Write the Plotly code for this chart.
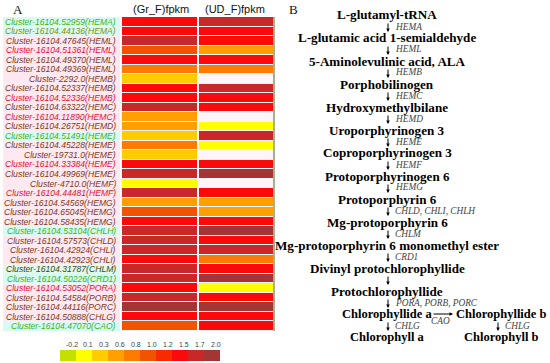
import plotly.graph_objects as go
import numpy as np

# ---------------- data ----------------
genes = [
    "Cluster-16104.52959(HEMA)", "Cluster-16104.44136(HEMA)", "Cluster-16104.47645(HEML)",
    "Cluster-16104.51361(HEML)", "Cluster-16104.49370(HEML)", "Cluster-16104.49369(HEML)",
    "Cluster-2292.0(HEMB)", "Cluster-16104.52337(HEMB)", "Cluster-16104.52336(HEMB)",
    "Cluster-16104.63322(HEMC)", "Cluster-16104.11890(HEMC)", "Cluster-16104.26751(HEMD)",
    "Cluster-16104.51491(HEME)", "Cluster-16104.45228(HEME)", "Cluster-19731.0(HEME)",
    "Cluster-16104.33384(HEME)", "Cluster-16104.49969(HEME)", "Cluster-4710.0(HEMF)",
    "Cluster-16104.44481(HEMF)", "Cluster-16104.54569(HEMG)", "Cluster-16104.65045(HEMG)",
    "Cluster-16104.58435(HEMG)", "Cluster-16104.53104(CHLH)", "Cluster-16104.57573(CHLD)",
    "Cluster-16104.42924(CHLI)", "Cluster-16104.42923(CHLI)", "Cluster-16104.31787(CHLM)",
    "Cluster-16104.50226(CRD1)", "Cluster-16104.53052(PORA)", "Cluster-16104.54584(PORB)",
    "Cluster-16104.44116(PORC)", "Cluster-16104.50888(CHLG)", "Cluster-16104.47070(CAO)",
]
label_kind = ["g", "o", "b", "r", "b", "b", "b", "b", "r", "b", "r", "b", "g", "b", "b",
              "r", "b", "b", "r", "b", "b", "b", "g", "b", "b", "b", "dg", "g", "r", "b",
              "b", "b", "g"]
samples = ["(Gr_F)fpkm", "(UD_F)fpkm"]
gr_f = [1.5, 1.5, 1.7, 1.0, 1.5, 0.8, 0.3, 1.5, 1.5, 1.7, 0.6, 0.6, 0.3, 0.8, 0.3, 1.5, 1.7,
        0.1, 1.7, 0.6, 1.0, 1.5, 1.7, 1.7, 1.7, 1.5, 1.7, 1.7, 1.5, 1.7, 2.0, 1.5, 1.0]
ud_f = [1.7, 1.5, 1.5, 0.6, 1.5, 0.8, None, 1.7, 1.5, 1.5, None, 0.1, 1.7, 0.1, None, 1.5, 2.0,
        None, 1.5, 0.6, 0.6, 1.5, 2.0, 1.5, 1.7, 0.8, 1.5, 2.0, 0.1, 1.5, 2.0, 1.5, 1.5]
scale_ticks = [-0.2, 0.1, 0.3, 0.6, 0.8, 1.0, 1.2, 1.5, 1.7, 2.0]
scale_colors = ["#c4e000", "#ffff00", "#ffcc00", "#ffa000", "#ff7a00", "#f05400",
                "#f82a00", "#fa0a0a", "#c82828", "#a33535"]

compounds = [
    "L-glutamyl-tRNA", "L-glutamic acid 1-semialdehyde", "5-Aminolevulinic acid, ALA",
    "Porphobilinogen", "Hydroxymethylbilane", "Uroporphyrinogen 3", "Coproporphyrinogen 3",
    "Protoporphyrinogen 6", "Protoporphyrin 6", "Mg-protoporphyrin 6",
    "Mg-protoporphyrin 6 monomethyl ester", "Divinyl protochlorophyllide",
    "Protochlorophyllide", "Chlorophyllide a", "Chlorophyll a",
]
enzymes = ["HEMA", "HEML", "HEMB", "HEMC", "HEMD", "HEME", "HEMF", "HEMG",
           "CHLD, CHLI, CHLH", "CHLM", "CRD1", "", "PORA, PORB, PORC", "CHLG"]
branch_compounds = ["Chlorophyllide b", "Chlorophyll b"]
branch_enzymes = ["CAO", "CHLG"]

# ---------------- figure ----------------
W, H = 550, 363
lo, hi = scale_ticks[0], scale_ticks[-1]
colorscale = [[(v - lo) / (hi - lo), c] for v, c in zip(scale_ticks, scale_colors)]

z = np.array([[np.nan if v is None else v for v in gr_f],
              [np.nan if v is None else v for v in ud_f]]).T

fig = go.Figure()
fig.add_trace(go.Heatmap(
    z=z, x=samples, y=genes, colorscale=colorscale, zmin=lo, zmax=hi,
    showscale=False, xgap=2, ygap=1, hoverongaps=False,
    xaxis="x", yaxis="y"))

# colour key
key_x = [f"{t:.1f}" for t in scale_ticks]
fig.add_trace(go.Heatmap(
    z=[scale_ticks], x=list(range(len(key_x))), y=[0],
    colorscale=colorscale, zmin=lo, zmax=hi, showscale=False,
    xaxis="x3", yaxis="y3"))


def px(x):
    return x / W


def py(y):
    return 1 - y / H


hm_left, hm_right, hm_top, hm_bot = 121, 274, 17, 331
layout = dict(
    width=W, height=H, margin=dict(l=0, r=0, t=0, b=0),
    paper_bgcolor="white", plot_bgcolor="#fff4f8", showlegend=False,
    xaxis=dict(domain=[px(hm_left), px(hm_right)], visible=False),
    yaxis=dict(domain=[py(hm_bot), py(hm_top)], autorange="reversed", visible=False),
    xaxis3=dict(domain=[px(60), px(220)], visible=False, anchor="y3",
                range=[-0.5, len(key_x) - 0.5]),
    yaxis3=dict(domain=[py(361), py(350)], visible=False, anchor="x3", range=[-0.5, 0.5]),
)
fig.update_layout(**layout)

label_colors = {"g": "#45b01a", "o": "#8c8c12", "b": "#7b3a1c", "r": "#e6102e", "dg": "#364a1e"}
bg_colors = {"g": "#d6fbf3", "o": "#d6fbf3", "b": "#ffe8f0", "r": "#ffe8f0", "dg": "#e2f8ea"}

shapes = []
annotations = []


def text(x, y, t, font, xanchor="center", yanchor="middle"):
    annotations.append(dict(xref="paper", yref="paper", x=px(x), y=py(y), text=t,
                            showarrow=False, xanchor=xanchor, yanchor=yanchor, font=font))


def arrow(x0, y0_, x1, y1):
    annotations.append(dict(xref="paper", yref="paper", x=px(x1), y=py(y1),
                            ax=x0 - x1, ay=y0_ - y1, axref="pixel", ayref="pixel",
                            text="", showarrow=True, arrowhead=2, arrowsize=0.7,
                            arrowwidth=1, arrowcolor="#000"))


n = len(genes)
rh = (hm_bot - hm_top) / n
for i, (g, k) in enumerate(zip(genes, label_kind)):
    yc = hm_top + (i + 0.5) * rh
    shapes.append(dict(type="rect", xref="paper", yref="paper", x0=px(3), x1=px(120),
                       y0=py(yc - rh / 2), y1=py(yc + rh / 2), fillcolor=bg_colors[k],
                       line=dict(width=0), layer="below"))
    text(118, yc, g, dict(family="Liberation Sans", size=8.6, style="italic",
                          color=label_colors[k]), xanchor="right")
# heatmap right border
shapes.append(dict(type="line", xref="paper", yref="paper", x0=px(hm_right), x1=px(hm_right),
                   y0=py(hm_top), y1=py(hm_bot), line=dict(color="#4a6a20", width=1)))

# colour key labels
for i, kx in enumerate(key_x):
    annotations.append(dict(xref="x3", yref="paper", x=i, y=py(344), text=kx,
                            showarrow=False, xshift=4, yanchor="middle",
                            font=dict(family="Liberation Sans", size=7, color="#444")))

# column headers
for s, xc in zip(samples, [161, 235]):
    text(xc, 9, s, dict(family="Liberation Sans", size=11, color="#111"))
# panel letters
text(18, 9, "A", dict(family="Liberation Serif", size=13, color="#111"))
text(293, 9, "B", dict(family="Liberation Serif", size=13, color="#111"))

# pathway
y0, step, xc, xarrow = 15, 23.0, 387, 388
cfont = dict(family="Liberation Serif", size=13.1, weight="bold", color="#000")
cfont_small = dict(family="Liberation Serif", size=12.5, weight="bold", color="#000")
efont = dict(family="Liberation Serif", size=9.3, style="italic", color="#444")
for i, c in enumerate(compounds):
    text(xc, y0 + i * step, c, cfont if i < 13 else cfont_small)
for i, e in enumerate(enzymes):
    ya = y0 + i * step + 7
    yb = y0 + (i + 1) * step - 6
    arrow(xarrow, ya, xarrow, yb)
    if e:
        text(xarrow + 5, (ya + yb) / 2 - 0.5, e, efont, xanchor="left")
# branch to chlorophyll b
yb1 = y0 + 13 * step
yb2 = y0 + 14 * step
bx = 501
text(bx, yb1, branch_compounds[0], cfont_small)
text(bx, yb2, branch_compounds[1], cfont_small)
arrow(432, yb1, 453, yb1)
text(441, yb1 + 7, branch_enzymes[0], efont)
arrow(498, yb1 + 7, 498, yb2 - 6)
text(503, (yb1 + yb2) / 2, branch_enzymes[1], efont, xanchor="left")

fig.update_layout(shapes=shapes, annotations=annotations)
fig.write_html("out.html", config={"displayModeBar": False},
               post_script="document.body.style.margin='0';document.body.style.overflow='hidden';")
